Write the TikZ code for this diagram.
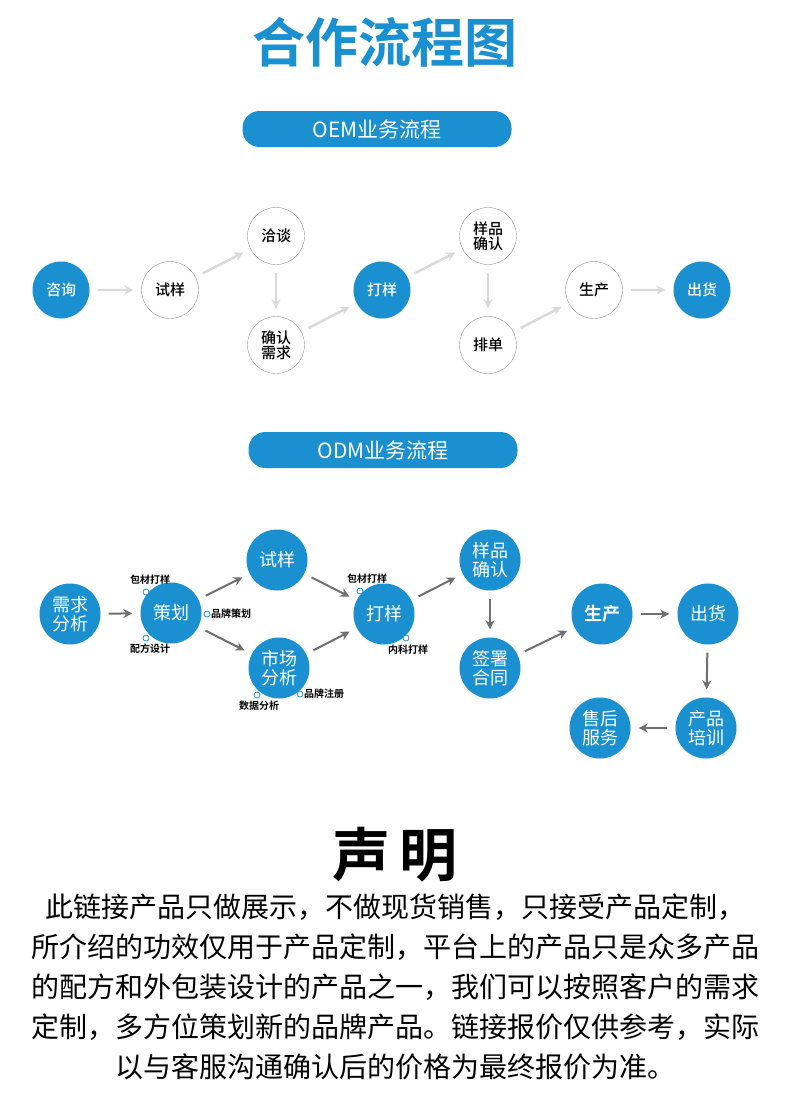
\documentclass[tikz,border=0pt]{standalone}
\usepackage{fontspec}
\setmainfont{Noto Sans CJK SC}
\newfontfamily\cjkbold{Noto Sans CJK SC Bold}
\newfontfamily\cjkmed{Noto Sans CJK SC Medium}
\usetikzlibrary{arrows.meta}
\definecolor{hblue}{HTML}{1A90D0}
\definecolor{lgray}{HTML}{DADADA}
\definecolor{dgray}{HTML}{707070}
\begin{document}
\begin{tikzpicture}[x=1pt,y=-1pt,
    blue/.style={circle,fill=hblue,text=white,minimum size=57pt,inner sep=0pt,font=\cjkmed\fontsize{15}{16}\selectfont,align=center},
    white/.style={circle,draw=gray!80,fill=white,text=black,minimum size=57pt,inner sep=0pt,font=\cjkmed\fontsize{15}{15}\selectfont,align=center},
    bigblue/.style={blue,minimum size=61pt,font=\fontsize{18}{19}\selectfont},
    oem/.style={-{Stealth[length=9pt,width=9pt]},lgray,line width=2.5pt,shorten >=8pt,shorten <=8pt},
    odm/.style={-{Stealth[length=9pt,width=9pt]},dgray,line width=2pt,shorten >=8pt,shorten <=8pt},
    banner/.style={rounded corners=17pt,fill=hblue,text=white,minimum width=269pt,minimum height=36pt,font=\fontsize{21}{21}\selectfont},
    dot/.style={circle,draw=hblue,fill=white,line width=0.8pt,minimum size=6pt,inner sep=0pt},
    tag/.style={font=\cjkbold\fontsize{10}{10}\selectfont,inner sep=1pt},
    para/.style={font=\fontsize{28}{28}\selectfont}]
    \useasboundingbox[fill=white] (0,0) rectangle (790,1116);

    \node[text=hblue,font=\cjkbold\fontsize{53}{53}\selectfont] (title) at (385,42) {合作流程图};

    % OEM
    \node[banner] (oembar) at (377,129) {OEM业务流程};
    \node[blue]  (zx)  at (61,290)  {咨询};
    \node[white] (sy)  at (170,290) {试样};
    \node[white] (qt)  at (276,236) {洽谈};
    \node[white] (qr)  at (276,345) {确认\\需求};
    \node[blue]  (dy)  at (382,290) {打样};
    \node[white] (ypq) at (488,236) {样品\\确认};
    \node[white] (pd)  at (488,345) {排单};
    \node[white] (sc)  at (594,290) {生产};
    \node[blue]  (ch)  at (702,290) {出货};
    \draw[oem] (zx) -- (sy);
    \draw[oem] (sy) -- (qt);
    \draw[oem] (qt) -- (qr);
    \draw[oem] (qr) -- (dy);
    \draw[oem] (dy) -- (ypq);
    \draw[oem] (ypq) -- (pd);
    \draw[oem] (pd) -- (sc);
    \draw[oem] (sc) -- (ch);

    % ODM
    \node[banner] (odmbar) at (383,450) {ODM业务流程};
    \node[bigblue] (xq)  at (70,614)  {需求\\分析};
    \node[bigblue] (ch2) at (171,613) {策划};
    \node[bigblue] (sy2) at (277,560) {试样};
    \node[bigblue] (fx)  at (279,668) {市场\\分析};
    \node[bigblue] (dy2) at (384,614) {打样};
    \node[bigblue] (yp2) at (490,560) {样品\\确认};
    \node[bigblue] (qs)  at (490,668) {签署\\合同};
    \node[bigblue,font=\cjkbold\fontsize{18}{19}\selectfont] (sc2) at (602,614) {生产};
    \node[bigblue] (ch3) at (708,614) {出货};
    \node[bigblue] (px)  at (706,728) {产品\\培训};
    \node[bigblue] (sh)  at (600,728) {售后\\服务};
    \draw[odm] (xq) -- (ch2);
    \draw[odm] (ch2) -- (sy2);
    \draw[odm] (ch2) -- (fx);
    \draw[odm] (sy2) -- (dy2);
    \draw[odm] (fx) -- (dy2);
    \draw[odm] (dy2) -- (yp2);
    \draw[odm] (yp2) -- (qs);
    \draw[odm] (qs) -- (sc2);
    \draw[odm] (sc2) -- (ch3);
    \draw[odm] (ch3) -- (px);
    \draw[odm] (px) -- (sh);

    % small tags
    \node[dot] (d1) at (146,592) {};
    \node[tag,anchor=south] at (150,586) {包材打样};
    \node[dot] (d2) at (207,614) {};
    \node[tag,anchor=west] at (210,614) {品牌策划};
    \node[dot] (d3) at (146,638) {};
    \node[tag,anchor=north] at (150,643) {配方设计};
    \node[dot] (d4) at (257,695) {};
    \node[tag,anchor=north] at (259,700) {数据分析};
    \node[dot] (d5) at (300,694) {};
    \node[tag,anchor=west] at (303,694) {品牌注册};
    \node[dot] (d6) at (360,591) {};
    \node[tag,anchor=south] at (367,585) {包材打样};
    \node[dot] (d7) at (406,638) {};
    \node[tag,anchor=north] at (408,644) {内科打样};

    % statement
    \node[font=\cjkbold\fontsize{58}{58}\selectfont] (sm) at (395,855) {声\,明};
    \node[para] (l1) at (395,907)  {此链接产品只做展示，不做现货销售，只接受产品定制，};
    \node[para] (l2) at (395,947)  {所介绍的功效仅用于产品定制，平台上的产品只是众多产品};
    \node[para] (l3) at (395,987)  {的配方和外包装设计的产品之一，我们可以按照客户的需求};
    \node[para] (l4) at (395,1027) {定制，多方位策划新的品牌产品。链接报价仅供参考，实际};
    \node[para] (l5) at (395,1067) {以与客服沟通确认后的价格为最终报价为准。};
\end{tikzpicture}
\end{document}
